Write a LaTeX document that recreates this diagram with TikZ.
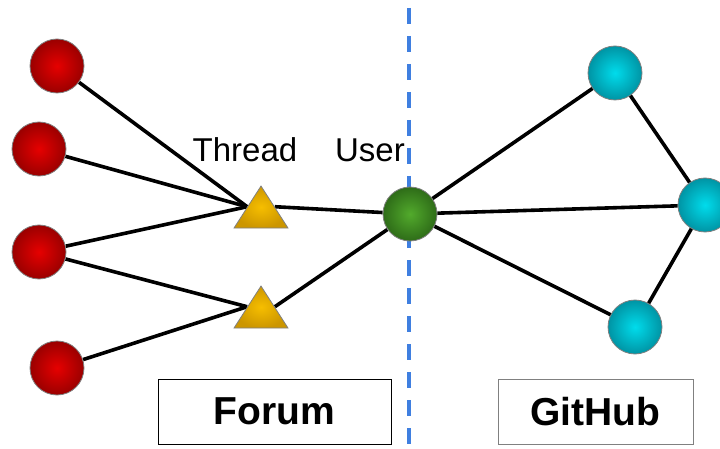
\documentclass[tikz,border=0pt]{standalone}
\usepackage{fontspec}
\setmainfont{Liberation Sans}
\usetikzlibrary{shapes.geometric}
\usetikzlibrary{backgrounds}
\definecolor{postin}{HTML}{E60000}
\definecolor{postout}{HTML}{9A0000}
\definecolor{threadin}{HTML}{F6BE00}
\definecolor{threadout}{HTML}{CC9600}
\definecolor{userin}{HTML}{52AA2C}
\definecolor{userout}{HTML}{2E6C18}
\definecolor{repoin}{HTML}{00DCEC}
\definecolor{repoout}{HTML}{0094A4}
\definecolor{divblue}{HTML}{3F7FE0}

\begin{document}
\begin{tikzpicture}[x=1pt, y=-1pt]
		\tikzset{vertex/.style={shape = circle, draw = gray, line width = 0.8pt, minimum size = 54pt, inner sep = 0pt}}
		\tikzset{post/.style={vertex, inner color = postin, outer color = postout}}
		\tikzset{user/.style={vertex, inner color = userin, outer color = userout}}
		\tikzset{repo/.style={vertex, inner color = repoin, outer color = repoout}}
		\tikzset{thread/.style={shape = isosceles triangle, shape border rotate = 90,
				isosceles triangle stretches, minimum width = 54pt, minimum height = 42pt,
				inner sep = 0pt, draw = gray, line width = 0.8pt, anchor = apex,
				inner color = threadin, outer color = threadout}}
		\tikzset{edge/.style={line width = 3.6pt}}
		\tikzset{divider/.style={draw = divblue, line width = 4pt, dash pattern = on 16pt off 12pt}}
		\tikzset{caption/.style={font = \fontsize{33}{33}\selectfont, anchor = base}}
		\tikzset{platform/.style={draw, rectangle, line width = 1pt, minimum height = 65pt,
				font = \bfseries\fontsize{39}{39}\selectfont}}
		\useasboundingbox (0,0) rectangle (720,449);
		%divider
		\coordinate (divtop) at (409,8);
		\coordinate (divbottom) at (409,449);
		\draw[divider] (divtop) -- (divbottom);
		%vertices
		\node[post] (p1) at (57, 66) {};
		\node[post] (p2) at (39, 149) {};
		\node[post] (p3) at (39, 252) {};
		\node[post] (p4) at (57, 368) {};
		\node[thread] (t1) at (261, 185) {};
		\node[thread] (t2) at (261, 285) {};
		\node[user] (u) at (410, 214) {};
		\node[repo] (g1) at (615, 73) {};
		\node[repo] (g2) at (705, 205) {};
		\node[repo] (g3) at (635, 327) {};
		%labels
		\node[caption] (threadlabel) at (245, 162) {Thread};
		\node[caption] (userlabel) at (370, 162) {User};
		\node[platform, minimum width = 233pt] (forum) at (274.5, 411.5) {Forum};
		\node[platform, minimum width = 195pt, draw = gray] (github) at (595.5, 411.5) {GitHub};
		%edges
		\begin{pgfonlayer}{background}
		\draw[edge] (p1) -- (t1.left side);
		\draw[edge] (p2) -- (t1.left side);
		\draw[edge] (p3) -- (t1.left side);
		\draw[edge] (p3) -- (t2.left side);
		\draw[edge] (p4) -- (t2.left side);
		\draw[edge] (t1.right side) -- (u);
		\draw[edge] (t2.right side) -- (u);
		\end{pgfonlayer}
		\draw[edge] (u) -- (g1);
		\draw[edge] (u) -- (g2);
		\draw[edge] (u) -- (g3);
		\draw[edge] (g1) -- (g2);
		\draw[edge] (g2) -- (g3);
\end{tikzpicture}
\end{document}
